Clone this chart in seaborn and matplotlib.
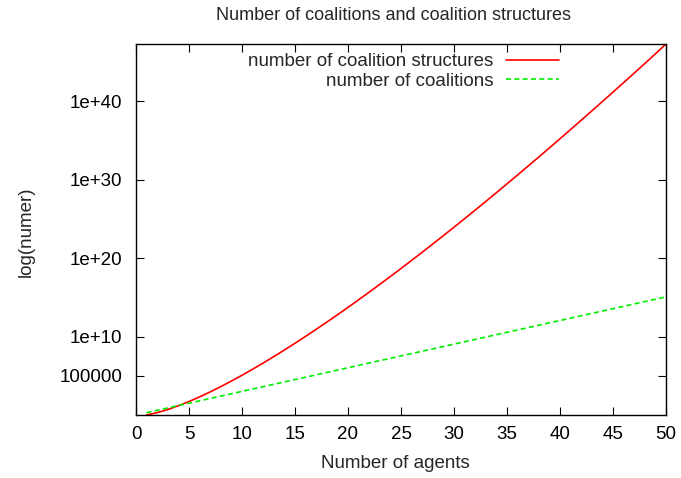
import numpy as np
import pandas as pd
import matplotlib
matplotlib.use("Agg")
import matplotlib.pyplot as plt
import seaborn as sns

# number of agents n = 1..50
AGENTS = list(range(1, 51))

# Bell numbers B(n): number of coalition structures
STRUCTURES = [
    1, 2, 5, 15, 52, 203, 877, 4140, 21147, 115975,
    678570, 4213597, 27644437, 190899322, 1382958545,
    10480142147, 82864869804, 682076806159, 5832742205057, 51724158235372,
    4.7487e14, 4.5067e15, 4.4152e16, 4.4596e17, 4.6386e18,
    4.9631e19, 5.4572e20, 6.1605e21, 7.1340e22, 8.4675e23,
    1.0293e25, 1.2806e26, 1.6296e27, 2.1195e28, 2.8160e29,
    3.8197e30, 5.2868e31, 7.4629e32, 1.0739e34, 1.5745e35,
    2.3526e36, 3.5750e37, 5.5190e38, 8.6512e39, 1.3761e41,
    2.2205e42, 3.6325e43, 6.0217e44, 1.0350e46, 1.8572e47,
]

# number of coalitions (2^n)
COALITIONS = [
    2, 4, 8, 16, 32, 64, 128, 256, 512, 1024,
    2048, 4096, 8192, 16384, 32768, 65536, 131072, 262144, 524288, 1048576,
    2097152, 4194304, 8388608, 16777216, 33554432,
    67108864, 134217728, 268435456, 536870912, 1073741824,
    2147483648, 4294967296, 8589934592, 17179869184, 34359738368,
    68719476736, 137438953472, 274877906944, 549755813888, 1099511627776,
    2.199023e12, 4.398047e12, 8.796093e12, 1.759219e13, 3.518437e13,
    7.036874e13, 1.407375e14, 2.814750e14, 5.629500e14, 1.125900e15,
]

Y_TICKS = [1e5, 1e10, 1e20, 1e30, 1e40]
Y_TICKLABELS = ["100000", "1e+10", "1e+20", "1e+30", "1e+40"]
X_TICKS = list(range(0, 51, 5))

FS = 13.5

sns.set_style("ticks")
plt.rcParams["font.family"] = ["Liberation Sans", "DejaVu Sans"]
plt.rcParams["font.size"] = FS

df = pd.DataFrame({"agents": AGENTS, "structures": STRUCTURES,
                   "coalitions": COALITIONS})

fig = plt.figure(figsize=(6.81, 4.78), dpi=100)
ax = fig.add_axes([136 / 681, 1 - 415 / 478, 530 / 681, 371 / 478])

sns.lineplot(data=df, x="agents", y="structures", ax=ax, color="#ff0000",
             linewidth=1.2, label="number of coalition structures")
sns.lineplot(data=df, x="agents", y="coalitions", ax=ax, color="#00ee00",
             linewidth=1.2, linestyle=(0, (3, 2)), label="number of coalitions")

ax.set_yscale("log")
ax.set_xlim(0, 50)
ax.set_ylim(1, 1.8572e47)
ax.set_xticks(X_TICKS)
ax.set_yticks(Y_TICKS)
ax.set_yticklabels(Y_TICKLABELS)
ax.minorticks_off()
ax.tick_params(direction="in", top=True, right=True, length=6, width=0.8,
               labelsize=FS, color="black", labelcolor="black")
ax.tick_params(axis="y", pad=10)
ax.tick_params(axis="x", pad=8)
for sp in ax.spines.values():
    sp.set_color("black")
    sp.set_linewidth(1.0)

ax.set_xlabel("")
ax.set_ylabel("")
fig.text(395 / 681, 1 - 463 / 478, "Number of agents", ha="center",
         va="center", fontsize=FS)
fig.text(26 / 681, 1 - 232 / 478, "log(numer)", ha="center", va="center",
         rotation=90, fontsize=FS)
fig.text(393 / 681, 1 - 16 / 478, "Number of coalitions and coalition structures",
         ha="center", va="center", fontsize=FS - 0.5)

ax.legend(loc="upper right", bbox_to_anchor=(568 / 681, 1 - 44 / 478),
          bbox_transform=fig.transFigure, frameon=False, markerfirst=False,
          handlelength=2.8, handletextpad=0.7, labelspacing=0.12,
          borderpad=0, fontsize=FS)

fig.savefig("out.png", dpi=100)
